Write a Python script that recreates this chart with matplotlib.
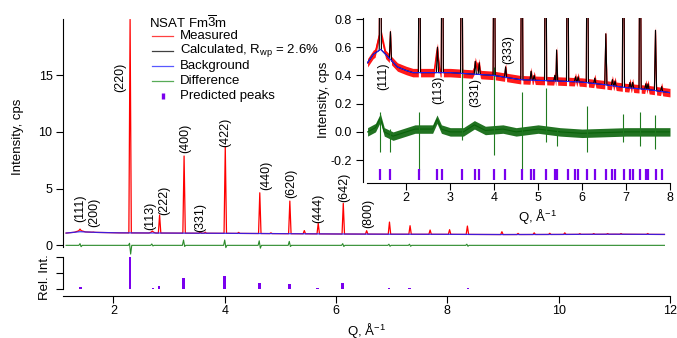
import numpy as np
import matplotlib.pyplot as plt
from matplotlib.lines import Line2D

plt.rcParams['font.family'] = ['Liberation Sans', 'DejaVu Sans']
plt.rcParams['font.size'] = 9
plt.rcParams['mathtext.fontset'] = 'custom'
plt.rcParams['mathtext.rm'] = 'Liberation Sans'
plt.rcParams['mathtext.it'] = 'Liberation Sans:italic'
plt.rcParams['axes.linewidth'] = 0.8

# ---- full pattern, Q 1.1 - 12 ----
bg_q = [1.15, 1.4, 1.7, 2.1, 3.0, 4.0, 5.0, 6.0, 7.0, 8.0, 9.0, 10.0, 11.0, 11.9]
bg_int = [1.08, 1.20, 1.14, 1.10, 1.08, 1.06, 1.03, 1.00, 0.98, 0.97, 0.95, 0.96, 0.98, 0.96]

# broad humps under (111) and (113)
hump_q = [1.40, 2.70]
hump_top = [1.32, 1.20]
hump_hw = [0.10, 0.06]

peak_q = [1.40, 1.64, 2.30, 2.70, 2.83, 3.27, 3.56, 3.65, 4.01, 4.25, 4.63, 4.83,
          5.17, 5.43, 5.68, 6.13, 6.55, 6.96, 7.33, 7.69, 8.04, 8.36, 8.98, 9.27,
          9.56, 9.84, 10.11, 10.38, 10.63, 10.88, 11.12, 11.60]
peak_top = [1.43, 1.17, 19.9, 1.26, 2.67, 7.87, 1.20, 1.16, 8.69, 1.14, 4.63, 1.10,
            3.90, 1.30, 1.94, 3.70, 1.29, 2.05, 1.73, 1.35, 1.38, 1.70, 1.20, 1.05,
            1.10, 1.06, 1.10, 1.03, 1.04, 1.04, 1.04, 1.04]

# difference curve spikes
diff_q = [1.41, 2.30, 2.70, 3.27, 4.01, 4.63, 5.17, 6.13, 6.96, 7.33, 8.36]
diff_hi = [0.15, 0.18, 0.12, 0.47, 0.47, 0.40, 0.35, 0.15, 0.10, 0.10, 0.10]
diff_lo = [-0.12, -0.77, -0.05, -0.10, -0.20, -0.25, -0.10, -0.10, -0.08, -0.08, -0.08]

hkl_text = ['(111)', '(200)', '(220)', '(113)', '(222)', '(400)', '(331)',
            '(422)', '(440)', '(620)', '(444)', '(642)', '(800)']
hkl_q = [1.40, 1.66, 2.12, 2.66, 2.91, 3.29, 3.56, 4.01, 4.75, 5.20, 5.68, 6.14, 6.57]
hkl_y = [2.08, 1.64, 13.5, 1.35, 2.67, 8.1, 1.2, 8.69, 4.87, 4.14, 1.94, 3.78, 1.5]

# predicted reflections and relative intensities
refl_q = [1.41, 1.64, 2.30, 2.71, 2.82, 3.26, 3.56, 3.65, 4.00, 4.25, 4.63, 4.84,
          4.90, 5.17, 5.38, 5.43, 5.67, 5.85, 5.91, 6.12, 6.29, 6.55, 6.69, 6.75,
          6.95, 7.09, 7.15, 7.32, 7.45, 7.50, 7.68, 7.81, 8.03, 8.16, 8.21, 8.37,
          8.50, 8.55, 8.70, 8.83, 8.98, 9.11, 9.23, 9.28, 9.41, 9.56, 9.68, 9.72,
          9.84, 9.97, 10.10, 10.22, 10.35, 10.47, 10.59, 10.63, 10.75, 10.87, 10.98,
          11.10, 11.21, 11.33, 11.44, 11.55, 11.66, 11.77, 11.88]
refl_rel = [7, 2, 100, 4, 9, 35, 2, 1, 42, 1, 21, 1.5,
            1.5, 17, 1, 1, 5, 1, 1, 19, 1, 2, 1, 1,
            4, 1, 1, 4, 1, 1, 2, 1, 2, 0.8, 0.8, 3,
            0.8, 0.8, 0.8, 0.8, 2, 0.8, 0.8, 0.8, 0.8, 1, 0.8, 0.8,
            0.8, 0.8, 0.8, 0.8, 0.8, 0.8, 0.8, 0.8, 0.8, 0.8, 0.8,
            0.8, 0.8, 0.8, 0.8, 0.8, 0.8, 0.8, 0.8]

# ---- low intensity detail, Q 1.1 - 8 ----
ins_bg_q = [1.12, 1.25, 1.42, 1.62, 1.8, 2.0, 2.15, 3.0, 3.5, 4.0, 4.3, 4.6, 5.0,
            5.5, 6.0, 6.5, 7.0, 7.5, 8.0]
ins_bg_int = [0.49, 0.55, 0.585, 0.52, 0.46, 0.435, 0.42, 0.42, 0.41, 0.40, 0.385,
              0.37, 0.365, 0.36, 0.353, 0.335, 0.314, 0.30, 0.278]

ins_hump_q = [1.41, 2.70, 3.60]
ins_hump_top = [0.72, 0.59, 0.47]
ins_hump_hw = [0.12, 0.07, 0.10]

ins_peak_q = [1.41, 1.64, 2.30, 2.71, 2.82, 3.26, 3.57, 3.66, 4.00, 4.26, 4.63,
              4.84, 4.91, 5.17, 5.38, 5.42, 5.67, 5.85, 5.91, 6.12, 6.29, 6.54,
              6.69, 6.75, 6.94, 7.09, 7.15, 7.32, 7.45, 7.50, 7.67, 7.81]
ins_peak_top = [2.0, 0.71, 2.0, 0.60, 2.0, 2.0, 0.50, 0.49, 2.0, 0.46, 2.0,
                0.43, 0.40, 2.0, 0.40, 0.58, 2.0, 0.39, 0.39, 2.0, 0.38, 0.695,
                0.37, 0.36, 2.0, 0.35, 0.35, 2.0, 0.34, 0.34, 0.72, 0.32]

ins_diff_q = [1.12, 1.3, 1.41, 1.5, 1.7, 2.0, 2.2, 2.6, 2.70, 2.8, 3.0, 3.3, 3.55,
              3.8, 4.2, 4.5, 5.0, 5.5, 6.0, 7.0, 8.0]
ins_diff_v = [0.0, 0.03, 0.10, 0.0, -0.03, 0.0, 0.02, 0.02, 0.09, 0.02, 0.0, 0.0,
              0.05, 0.01, 0.02, 0.0, 0.02, 0.0, -0.01, 0.0, 0.0]
ins_spike_q = [1.41, 1.64, 2.30, 3.26, 4.00, 4.63, 5.17, 5.42, 6.12, 6.94, 7.32, 7.67]
ins_spike_hi = [0.14, 0.02, 0.14, 0.45, 0.46, 0.28, 0.31, 0.02, 0.18, 0.13, 0.14, 0.12]
ins_spike_lo = [-0.14, -0.14, -0.27, -0.06, -0.165, -0.26, -0.07, -0.10, -0.14,
                -0.07, -0.10, -0.12]

ins_hkl_text = ['(111)', '(113)', '(331)', '(333)']
ins_hkl_q = [1.47, 2.72, 3.57, 4.31]
ins_hkl_y = [0.495, 0.40, 0.38, 0.483]


def add_peaks(base_q, base_v, centres, tops, half_widths):
    """Insert triangular peaks into a polyline, dropping knots they cover."""
    base_q = np.asarray(base_q, float)
    base_v = np.asarray(base_v, float)
    half_widths = np.broadcast_to(half_widths, (len(centres),))
    keep = np.ones(len(base_q), bool)
    xs, ys = [], []
    for c, t, w in zip(centres, tops, half_widths):
        keep &= np.abs(base_q - c) >= w
        lo, hi = np.interp([c - w, c + w], base_q, base_v)
        xs += [c - w, c, c + w]
        ys += [lo, t, hi]
    xs = np.concatenate([base_q[keep], xs])
    ys = np.concatenate([base_v[keep], ys])
    order = np.argsort(xs)
    return xs[order], ys[order]


def spikes(centres, hi, lo, hw, x0, x1):
    xs, ys = [x0], [0.0]
    for c, h, l in zip(centres, hi, lo):
        xs += [c - hw, c - hw / 3, c + hw / 3, c + hw]
        ys += [0.0, h, l, 0.0]
    xs.append(x1)
    ys.append(0.0)
    return xs, ys


RED = '#ff0000'
PURPLE = '#7a00ee'
DKGREEN = '#0a640a'
W, H = 677, 338


def box(x0, y0, x1, y1):
    return [x0 / W, 1 - y1 / H, (x1 - x0) / W, (y1 - y0) / H]


fig = plt.figure(figsize=(6.77, 3.38), dpi=100)

# main pattern
ax = fig.add_axes(box(63.3, 19.0, 670, 246.7))
hq, hv = add_peaks(bg_q, bg_int, hump_q, hump_top, hump_hw)
mq, mv = add_peaks(hq, hv, peak_q, peak_top, 0.022)
ax.plot(mq, mv, color=RED, lw=0.9)
ax.plot(bg_q, bg_int, color='#2020ff', lw=0.9, alpha=0.85)
dq, dv = spikes(diff_q, diff_hi, diff_lo, 0.03, 1.15, 11.9)
ax.plot(dq, dv, color='#2a8a2a', lw=0.8, clip_on=False)
for t, q, y in zip(hkl_text, hkl_q, hkl_y):
    ax.text(q, y, t, rotation=90, ha='center', va='bottom', fontsize=9)
ax.set_xlim(1.1, 12)
ax.set_ylim(-0.12, 19.94)
ax.set_yticks([0, 5, 10, 15])
ax.set_xticks([])
for s in ['top', 'right', 'bottom']:
    ax.spines[s].set_visible(False)
ax.tick_params(axis='y', length=4.8, width=0.8, pad=3)
ax.patch.set_visible(False)

# relative intensities of predicted reflections
rax = fig.add_axes(box(63.3, 257.3, 670, 289.3))
rax.bar(refl_q, refl_rel, width=0.05, color=PURPLE)
rax.set_xlim(1.1, 12)
rax.set_ylim(0, 100)
rax.set_yticks([0, 50, 100])
rax.set_yticklabels([])
rax.set_xticks([2, 4, 6, 8, 10, 12])
for s in ['top', 'right']:
    rax.spines[s].set_visible(False)
rax.spines['bottom'].set_position(('outward', 4.8))
rax.tick_params(length=4.8, width=0.8, pad=1.5)
rax.patch.set_visible(False)

# inset: low intensity region
iax = fig.add_axes(box(366.7, 18.3, 670, 181.7))
iq, iv = add_peaks(ins_bg_q, ins_bg_int, ins_hump_q, ins_hump_top, ins_hump_hw)
meas_q, meas_v = add_peaks(iq, iv, ins_peak_q, ins_peak_top, 0.025)
calc_q, calc_v = add_peaks(ins_bg_q, ins_bg_int, ins_peak_q, ins_peak_top, 0.025)
iax.fill_between(meas_q, meas_v - 0.03, meas_v + 0.03, color=RED, lw=0, alpha=0.9)
iax.plot(meas_q, meas_v, color=RED, lw=0.8)
dv_arr = np.array(ins_diff_v)
iax.fill_between(ins_diff_q, dv_arr - 0.03, dv_arr + 0.03, color=DKGREEN, lw=0, alpha=0.9)
iax.plot(ins_diff_q, ins_diff_v, color=DKGREEN, lw=0.8)
iax.vlines(ins_spike_q, ins_spike_lo, ins_spike_hi, color='#1f7a1f', lw=0.8)
iax.plot(calc_q, calc_v, color='black', lw=0.8)
iax.plot(ins_bg_q, ins_bg_int, color='#2020ff', lw=0.8)
tq = [q for q in refl_q if q <= 8]
iax.vlines(tq, -0.341, -0.266, color=PURPLE, lw=1.6)
for t, q, y in zip(ins_hkl_text, ins_hkl_q, ins_hkl_y):
    va = 'bottom' if t == '(333)' else 'top'
    iax.text(q, y, t, rotation=90, ha='center', va=va, fontsize=9)
iax.set_xlim(1.1, 8)
iax.set_ylim(-0.353, 0.805)
iax.set_yticks([-0.2, 0.0, 0.2, 0.4, 0.6, 0.8])
iax.set_yticklabels(['-0.2', '0.0', '0.2', '0.4', '0.6', '0.8'])
iax.set_xticks([2, 3, 4, 5, 6, 7, 8])
for s in ['top', 'right']:
    iax.spines[s].set_visible(False)
iax.spines['left'].set_position(('outward', 2.4))
iax.spines['bottom'].set_position(('outward', 0.7))
iax.tick_params(length=4.8, width=0.8, pad=3.5)
iax.tick_params(axis='x', pad=2)
iax.patch.set_visible(False)

# axis titles
fig.text(18 / W, 1 - 137 / H, 'Intensity, cps', rotation=90, ha='center', va='center', fontsize=9.5)
fig.text(45 / W, 1 - 277 / H, 'Rel. Int.', rotation=90, ha='center', va='center', fontsize=9.5)
fig.text(324 / W, 1 - 100 / H, 'Intensity, cps', rotation=90, ha='center', va='center', fontsize=9.5)
fig.text(366.7 / W, 1 - 330 / H, r'Q, Å$^{-1}$', ha='center', va='center', fontsize=9.5)
fig.text(537.5 / W, 1 - 216 / H, r'Q, Å$^{-1}$', ha='center', va='center', fontsize=9.5)

# legend
fig.text(149 / W, 1 - 22.7 / H, r'NSAT Fm$\overline{3}$m', ha='left', va='center', fontsize=9.5)
legend_rows = [('Measured', RED), (r'Calculated, R$_{\rm wp}$ = 2.6%', 'black'),
               ('Background', '#2020ff'), ('Difference', '#1f8f1f')]
for i, (label, color) in enumerate(legend_rows):
    y = 1 - (36 + 14.9 * i) / H
    fig.add_artist(Line2D([151.7 / W, 173.3 / W], [y, y], color=color, lw=0.9,
                          alpha=0.75, transform=fig.transFigure))
    fig.text(180 / W, y, label, ha='left', va='center', fontsize=9.5)
y = 1 - 95.7 / H
fig.add_artist(Line2D([163 / W], [y], marker='|', markersize=5, markeredgewidth=2.4,
                      color=PURPLE, transform=fig.transFigure))
fig.text(180 / W, y, 'Predicted peaks', ha='left', va='center', fontsize=9.5)

fig.savefig('out.png', dpi=100)
